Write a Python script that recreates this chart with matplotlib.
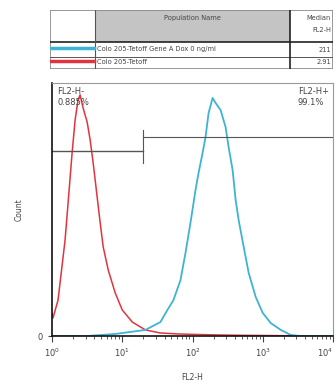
import matplotlib
matplotlib.use('Agg')
import matplotlib.pyplot as plt
from matplotlib.patches import Rectangle
from matplotlib.ticker import LogLocator, NullFormatter
import numpy as np

# red: Colo 205-Tetoff  (log10 of FL2-H, count in % of axis)
red_lx = [0.0, 0.014, 0.086, 0.186, 0.229, 0.286, 0.329, 0.371, 0.40, 0.443, 0.5,
          0.543, 0.586, 0.643, 0.686, 0.729, 0.8, 0.9, 1.0, 1.143, 1.33, 1.54, 1.8,
          2.2, 2.6, 3.0, 3.4, 4.0]
red_ct = [9.1, 7.1, 14.2, 37.9, 52.6, 72.3, 85.4, 93.3, 95.3, 90.1, 84.6,
          77.5, 68.4, 54.9, 44.7, 35.2, 26.1, 17.0, 10.3, 5.5, 2.4, 1.2, 0.8,
          0.5, 0.3, 0.2, 0.1, 0.0]

# cyan: Colo 205-Tetoff Gene A Dox 0 ng/ml
blue_lx = [0.0, 0.5, 0.9, 1.114, 1.329, 1.543, 1.643, 1.729, 1.829, 1.9, 1.971,
           2.043, 2.086, 2.143, 2.186, 2.229, 2.286, 2.329, 2.4, 2.471, 2.514,
           2.571, 2.614, 2.657, 2.729, 2.8, 2.9, 3.0, 3.114, 3.257, 3.4, 3.54, 4.0]
blue_ct = [0.0, 0.0, 0.8, 1.6, 2.4, 5.5, 10.3, 14.2, 22.1, 32.8, 44.7,
           57.7, 64.4, 72.3, 78.7, 88.1, 94.1, 92.1, 89.3, 82.6, 74.7,
           65.6, 53.8, 45.8, 35.2, 24.9, 15.4, 9.1, 5.1, 2.4, 0.4, 0.0, 0.0]

names = ['Colo 205-Tetoff Gene A Dox 0 ng/ml', 'Colo 205-Tetoff']
medians = ['211', '2.91']
colors = ['#3fb3d3', '#e2343f']

gate_left = (1, 20, 73.1)
gate_right = (20, 10000, 78.7)
pct_neg = '0.885%'
pct_pos = '99.1%'

tc = '#444444'
fig = plt.figure(figsize=(3.36, 3.92), dpi=100)

# ---- histogram
ax = fig.add_axes([52/336, 1-336/392, 281/336, 253/392])
ax.plot(10**np.array(red_lx), red_ct, color=colors[1], lw=1.1)
ax.plot(10**np.array(blue_lx), blue_ct, color=colors[0], lw=1.3)
ax.set_xscale('log')
ax.set_xlim(1, 10000)
ax.set_ylim(0, 100)
ax.set_yticks([0])
ax.set_yticklabels(['0'])
ax.set_xticks([1, 10, 100, 1000, 10000])
ax.set_xticklabels([r'$10^0$', r'$10^1$', r'$10^2$', r'$10^3$', r'$10^4$'])
ax.get_xticklabels()[-1].set_ha('right')
ax.xaxis.set_minor_locator(LogLocator(base=10, subs=np.arange(2, 10)))
ax.xaxis.set_minor_formatter(NullFormatter())
ax.tick_params(axis='both', labelsize=6, colors=tc, length=4, width=0.8)
ax.tick_params(axis='x', which='minor', length=2.5, width=0.6, colors=tc)
ax.tick_params(axis='y', length=3)
for s in ['left', 'bottom']:
    ax.spines[s].set_color('#111111')
    ax.spines[s].set_linewidth(1.2)
for s in ['top', 'right']:
    ax.spines[s].set_color('#999999')
    ax.spines[s].set_linewidth(0.8)
ax.set_xlabel('FL2-H', fontsize=5.5, color=tc, labelpad=10)
ax.set_ylabel('Count', fontsize=5.5, color=tc, labelpad=10)

# gates
gc = '#555555'
ax.plot([gate_left[0], gate_left[1]], [gate_left[2], gate_left[2]], color=gc, lw=1)
ax.plot([gate_right[0], gate_right[1]], [gate_right[2], gate_right[2]], color=gc, lw=0.8)
ax.plot([20, 20], [68.5, 81.5], color=gc, lw=0.8)

ax.text(0.02, 0.985, 'FL2-H-\n' + pct_neg, transform=ax.transAxes, fontsize=6,
        color=tc, ha='left', va='top', linespacing=1.3)
ax.text(0.985, 0.985, 'FL2-H+\n' + pct_pos, transform=ax.transAxes, fontsize=6,
        color=tc, ha='right', va='top', linespacing=1.3, multialignment='left')

# ---- legend table
tb = fig.add_axes([50/336, 1-69/392, 283/336, 59/392])
tb.set_xlim(50, 333)
tb.set_ylim(69, 10)
tb.axis('off')
tb.add_patch(Rectangle((95, 10), 195, 32, facecolor='#c4c4c4', edgecolor='none'))
tb.add_patch(Rectangle((50, 10), 283, 59, facecolor='none', edgecolor='#888888', lw=1.2))
tb.plot([50, 333], [42, 42], color='#222222', lw=1.2)
tb.plot([50, 333], [57, 57], color='#555555', lw=0.7)
tb.plot([95, 95], [10, 69], color='#555555', lw=0.8)
tb.plot([290, 290], [10, 69], color='#222222', lw=1.2)
tb.text(192, 18, 'Population Name', fontsize=4.8, color=tc, ha='center', va='center')
tb.text(331, 18, 'Median', fontsize=4.8, color=tc, ha='right', va='center')
tb.text(331, 30, 'FL2-H', fontsize=4.8, color=tc, ha='right', va='center')
for i, (n, m, c) in enumerate(zip(names, medians, colors)):
    yy = 49.5 + i * 13
    tb.plot([50, 94], [yy - 1.5, yy - 1.5], color=c, lw=2.5)
    tb.text(97, yy, n, fontsize=4.8, color=tc, ha='left', va='center')
    tb.text(331, yy, m, fontsize=4.8, color=tc, ha='right', va='center')

fig.savefig('out.png', dpi=100)
